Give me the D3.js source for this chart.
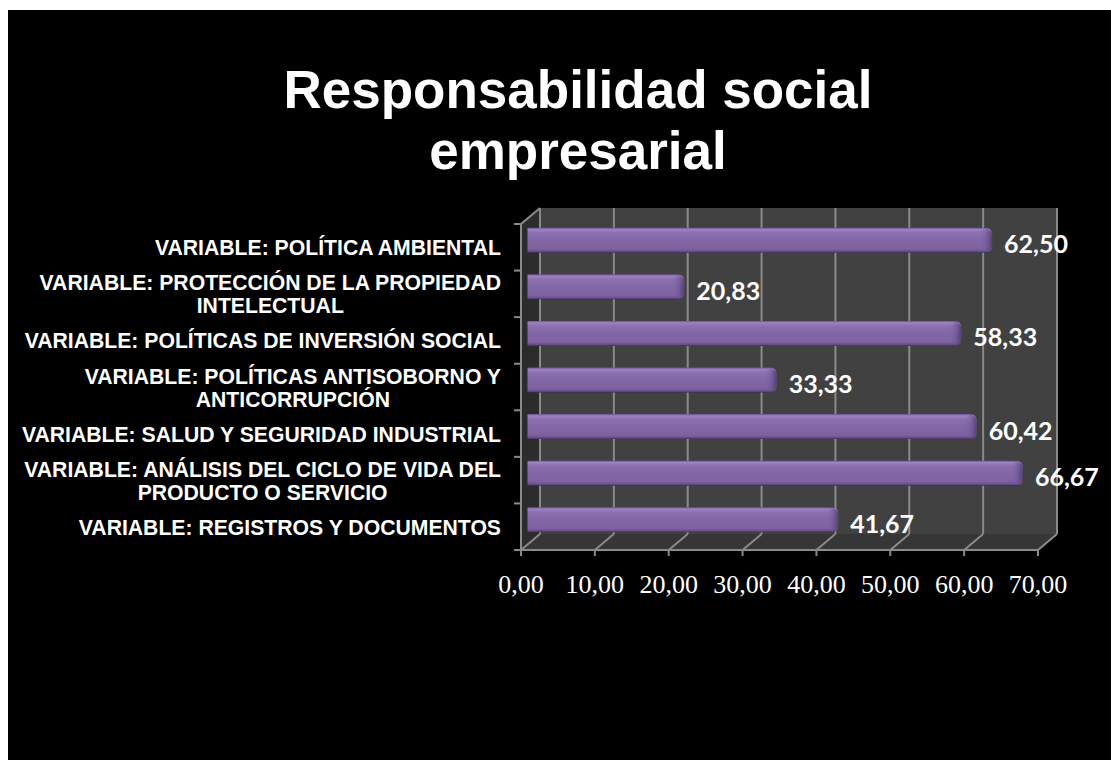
<!DOCTYPE html>
<html><head><meta charset="utf-8">
<script src="https://cdn.jsdelivr.net/npm/d3@7"></script>
<style>html,body{margin:0;padding:0;background:#fff;}svg{display:block;}</style>
</head><body>
<script>
const titleLines = ["Responsabilidad social", "empresarial"];
const categories = [
  ["VARIABLE: POLÍTICA AMBIENTAL"],
  ["VARIABLE: PROTECCIÓN DE LA PROPIEDAD", "INTELECTUAL"],
  ["VARIABLE: POLÍTICAS DE INVERSIÓN SOCIAL"],
  ["VARIABLE: POLÍTICAS ANTISOBORNO Y", "ANTICORRUPCIÓN"],
  ["VARIABLE: SALUD Y SEGURIDAD INDUSTRIAL"],
  ["VARIABLE: ANÁLISIS DEL CICLO DE VIDA DEL", "PRODUCTO O SERVICIO"],
  ["VARIABLE: REGISTROS Y DOCUMENTOS"]
];
const values = [62.50, 20.83, 58.33, 33.33, 60.42, 66.67, 41.67];
const xTicks = [0, 10, 20, 30, 40, 50, 60, 70];

const W = 1111, H = 760;
const svg = d3.select("body").append("svg").attr("width", W).attr("height", H);
svg.append("rect").attr("x", 8).attr("y", 10).attr("width", W - 8).attr("height", H - 10).attr("fill", "#000");

const fmt = v => d3.format(".2f")(v).replace(".", ",");
const DX = 19, DY = -16;
const x = d3.scaleLinear().domain([0, 70]).range([521, 1038]);
const keys = categories.map((c, i) => i);
const y = d3.scaleBand().domain(keys).range([224, 550]).paddingInner(0).paddingOuter(0);

// defs
const defs = svg.append("defs");
const g1 = defs.append("linearGradient").attr("id", "barG").attr("x1", 0).attr("y1", 0).attr("x2", 0).attr("y2", 1);
[[0, "#6a5090"], [0.07, "#9c83c2"], [0.2, "#8c71b1"], [0.5, "#8266a6"], [0.85, "#7e62a0"], [0.95, "#654c88"], [1, "#3e2d58"]]
  .forEach(([o, c]) => g1.append("stop").attr("offset", o).attr("stop-color", c));
const g2 = defs.append("linearGradient").attr("id", "capG").attr("x1", 0).attr("y1", 0).attr("x2", 1).attr("y2", 0);
[[0, "#7e62a0", 0], [0.5, "#6b5190", 0.6], [1, "#3f2e5a", 1]]
  .forEach(([o, c, a]) => g2.append("stop").attr("offset", o).attr("stop-color", c).attr("stop-opacity", a));

// title
svg.append("text").attr("x", 578).attr("text-anchor", "middle")
  .attr("font-family", "Liberation Sans, Arial, sans-serif").attr("font-weight", "bold")
  .attr("font-size", 53).attr("fill", "#fff")
  .selectAll("tspan").data(titleLines).join("tspan")
  .attr("x", 578).attr("y", (d, i) => 108 + i * 61).text(d => d);

// walls
const yTop = y.range()[0], yBot = y.range()[1];
svg.append("polygon").attr("fill", "#2c2c2c")
  .attr("points", [[x(0), yTop], [x(0) + DX, yTop + DY], [x(0) + DX, yBot + DY], [x(0), yBot]].join(" "));
svg.append("rect").attr("fill", "#414141")
  .attr("x", x(0) + DX).attr("y", yTop + DY).attr("width", x(70) - x(0)).attr("height", yBot - yTop);
svg.append("polygon").attr("fill", "#363636")
  .attr("points", [[x(0), yBot], [x(70), yBot], [x(70) + DX, yBot + DY], [x(0) + DX, yBot + DY]].join(" "));

// gridlines
const grid = svg.append("g").attr("stroke", "#8a8a8a").attr("stroke-width", 2).attr("fill", "none");
xTicks.forEach(t => {
  grid.append("line").attr("x1", x(t) + DX).attr("x2", x(t) + DX).attr("y1", yTop + DY).attr("y2", yBot + DY);
  grid.append("line").attr("x1", x(t)).attr("x2", x(t) + DX).attr("y1", yBot).attr("y2", yBot + DY);
});

// axes lines
const ax = svg.append("g").attr("stroke", "#8a8a8a").attr("stroke-width", 2).attr("fill", "none");
ax.append("line").attr("x1", x(0)).attr("x2", x(70)).attr("y1", yBot).attr("y2", yBot);
ax.append("line").attr("x1", x(0)).attr("x2", x(0)).attr("y1", yTop).attr("y2", yBot);
ax.append("line").attr("x1", x(0)).attr("x2", x(0) + DX).attr("y1", yTop).attr("y2", yTop + DY);
xTicks.forEach(t => ax.append("line").attr("x1", x(t)).attr("x2", x(t)).attr("y1", yBot).attr("y2", yBot + 6));
keys.concat([keys.length]).forEach(i => {
  const yy = i < keys.length ? y(i) : yBot;
  ax.append("line").attr("x1", x(0) - 7).attr("x2", x(0)).attr("y1", yy).attr("y2", yy);
});

// x tick labels
svg.append("g").selectAll("text").data(xTicks).join("text")
  .attr("x", d => x(d)).attr("y", 593).attr("text-anchor", "middle")
  .attr("font-family", "Liberation Serif, Times New Roman, serif").attr("font-size", 26).attr("fill", "#fff")
  .text(d => fmt(d));

// category labels
const cl = svg.append("g").attr("font-family", "Liberation Sans, Arial, sans-serif").attr("font-weight", "bold")
  .attr("font-size", 21.2).attr("fill", "#fff");
categories.forEach((lines, i) => {
  const cy = y(i) + y.bandwidth() / 2 + 1;
  const t = cl.append("text").attr("text-anchor", "middle");
  const n = lines.length;
  lines.forEach((ln, j) => t.append("tspan").text(ln).attr("x", 0).attr("y", cy + 7 + (j - (n - 1) / 2) * 23));
  const w = d3.max(t.selectAll("tspan").nodes(), nd => nd.getComputedTextLength());
  t.selectAll("tspan").attr("x", 501 - w / 2);
});

// bars
const bh = 25, r = 7;
const bars = svg.append("g");
values.forEach((v, i) => {
  const x0 = x(0) + DX / 2 - 3, x1 = x(v) + DX / 2;
  const cy = y(i) + y.bandwidth() / 2 + DY / 2 + 1;
  const yt = cy - bh / 2, yb = cy + bh / 2;
  const p = d3.path();
  p.moveTo(x0, yt);
  p.lineTo(x1 - r, yt);
  p.quadraticCurveTo(x1, yt, x1, yt + r);
  p.lineTo(x1, yb - r);
  p.quadraticCurveTo(x1, yb, x1 - r, yb);
  p.lineTo(x0, yb);
  p.closePath();
  bars.append("path").attr("d", p.toString()).attr("fill", "url(#barG)");
  bars.append("rect").attr("x", x1 - 12).attr("y", yt + 1).attr("width", 12).attr("height", bh - 2)
    .attr("rx", 6).attr("fill", "url(#capG)").attr("opacity", 0.7);
  svg.append("text").attr("x", x1 + 12).attr("y", cy + 3).attr("dominant-baseline", "central")
    .attr("font-family", "Lato, Carlito, sans-serif").attr("font-weight", "bold").attr("font-size", 25)
    .attr("fill", "#fff").text(fmt(v));
});
</script>
</body></html>
